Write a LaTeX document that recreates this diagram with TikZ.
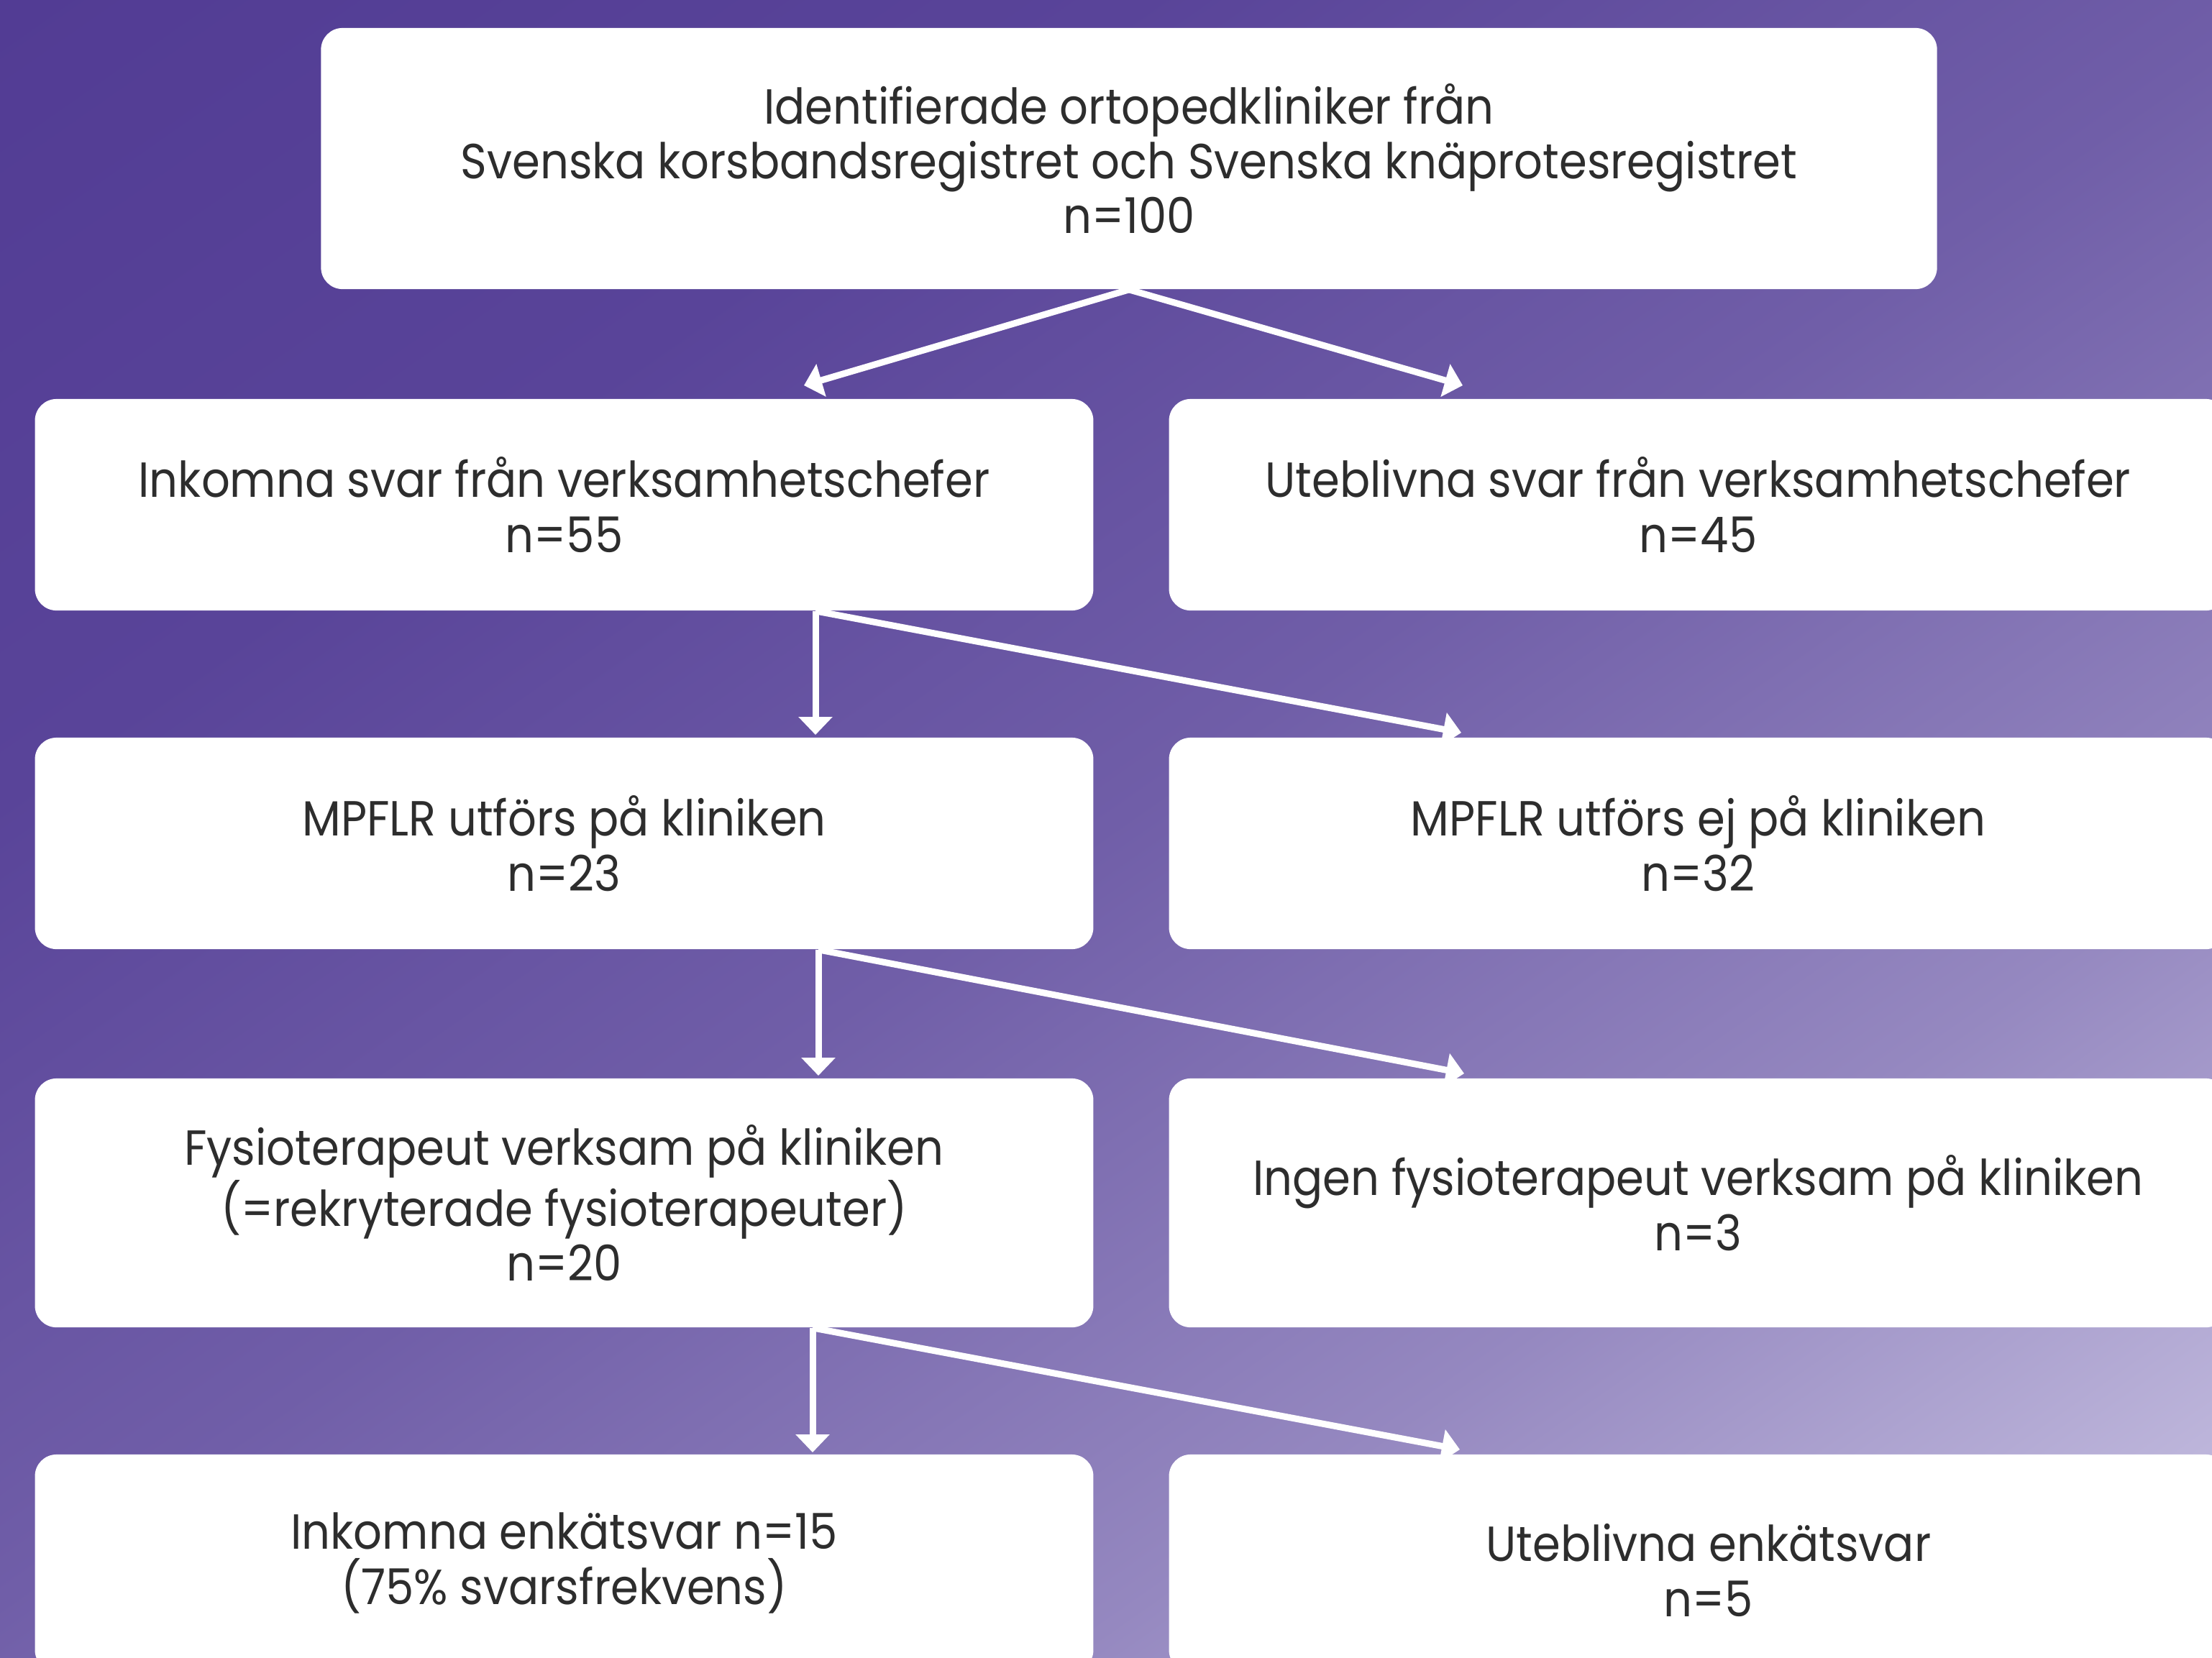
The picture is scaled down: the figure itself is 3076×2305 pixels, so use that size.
\documentclass[tikz,border=0pt]{standalone}
\usepackage{fontspec}
\setmainfont{Poppins}[FakeStretch=0.91]
\usetikzlibrary{arrows.meta}
\definecolor{txt}{HTML}{2D2D2D}
\definecolor{bgA}{RGB}{82,60,148}
\definecolor{bgB}{RGB}{89,68,153}
\definecolor{bgC}{RGB}{112,94,168}
\definecolor{bgD}{RGB}{149,136,192}
\definecolor{bgE}{RGB}{203,197,228}
\pgfdeclarehorizontalshading{bgshade}{100bp}{color(0bp)=(bgA); color(15.2bp)=(bgA); color(32.6bp)=(bgB); color(50bp)=(bgC); color(67.4bp)=(bgD); color(84.8bp)=(bgE); color(100bp)=(bgE)}
\begin{document}
\begin{tikzpicture}[x=0.01cm,y=-0.01cm,
  box/.style={fill=white, rounded corners=0.3cm, inner sep=0pt, align=center, text=txt,
    minimum width=14.71cm, font=\fontsize{19.5pt}{21.7pt}\selectfont},
  conn/.style={draw=white, line width=0.09cm, -{Triangle[length=0.25cm,width=0.46cm]}}]
\path[use as bounding box] (0,0) rectangle (3076,2305);
\clip (0,0) rectangle (3076,2305);
\shade[shading=bgshade, shading angle=-55] (0,0) rectangle (3076,2305);

\node[box, minimum width=22.46cm, minimum height=3.63cm] (top) at (1570,220.5)
  {Identifierade ortopedkliniker från\\Svenska korsbandsregistret och Svenska knäprotesregistret\\n=100};
\node[box, minimum height=2.94cm] (r1l) at (784.5,702) {Inkomna svar från verksamhetschefer\\n=55};
\node[box, minimum height=2.94cm] (r1r) at (2361.5,702) {Uteblivna svar från verksamhetschefer\\n=45};
\node[box, minimum height=2.94cm] (r2l) at (784.5,1173) {MPFLR utförs på kliniken\\n=23};
\node[box, minimum height=2.94cm] (r2r) at (2361.5,1173) {MPFLR utförs ej på kliniken\\n=32};
\node[box, minimum height=3.46cm] (r3l) at (784.5,1673) {Fysioterapeut verksam på kliniken\\(=rekryterade fysioterapeuter)\\n=20};
\node[box, minimum height=3.46cm] (r3r) at (2361.5,1673) {Ingen fysioterapeut verksam på kliniken\\n=3};
\node[box, minimum height=3.02cm] (r4l) at (784.5,2174) {Inkomna enkätsvar n=15\\(75\% svarsfrekvens)};
\node[box, minimum height=3.02cm] (r4r) at (2361.5,2174) {};
\node[text=txt, align=center, inner sep=0pt, font=\fontsize{19.5pt}{21.7pt}\selectfont] (r4rt) at (2376,2184) {Uteblivna enkätsvar\\n=5};

\coordinate (e1l) at (1118,536);
\coordinate (e1r) at (2034,536);
\coordinate (v2) at (1134,1022);
\coordinate (d2) at (2032,1019);
\coordinate (v3) at (1138,1496);
\coordinate (d3) at (2036,1493);
\coordinate (v4) at (1130,2020);
\coordinate (d4) at (2030,2016);

\draw[conn] (top.south) -- (e1l);
\draw[conn] (top.south) -- (e1r);
\draw[conn] (r1l.south -| v2) -- (v2);
\draw[conn] (r1l.south -| v2) -- (d2);
\draw[conn] (r2l.south -| v3) -- (v3);
\draw[conn] (r2l.south -| v3) -- (d3);
\draw[conn] (r3l.south -| v4) -- (v4);
\draw[conn] (r3l.south -| v4) -- (d4);
\end{tikzpicture}
\end{document}
